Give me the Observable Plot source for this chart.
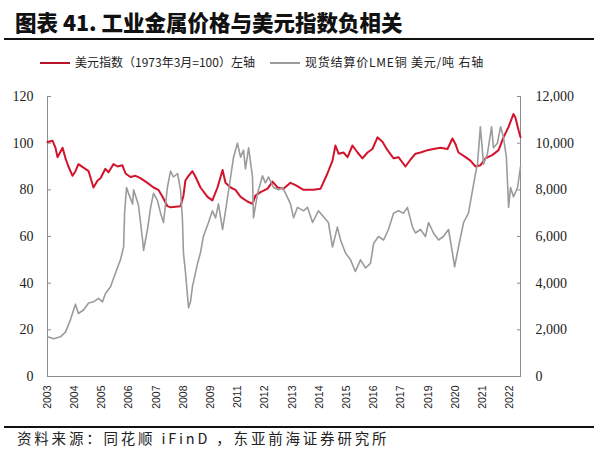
<!DOCTYPE html>
<html><head><meta charset="utf-8">
<script src="https://cdn.jsdelivr.net/npm/d3@7"></script>
<script src="https://cdn.jsdelivr.net/npm/@observablehq/plot@0.6"></script>
<style>
body{margin:0;width:600px;height:466px;background:#fff;overflow:hidden;position:relative;font-family:"Noto Sans CJK SC",sans-serif;color:#111;}
#title{position:absolute;left:15px;top:7px;font-size:21.5px;font-weight:900;line-height:30px;white-space:nowrap;}
.rule{position:absolute;left:4px;width:590px;height:2px;background:#111;}
#legend{position:absolute;left:0;top:54px;height:16px;font-size:12px;line-height:16px;white-space:nowrap;color:#222;}
.sw{position:absolute;top:8px;width:30px;height:2px;}
.lt{position:absolute;top:0;}
#chart{position:absolute;left:0;top:80px;}
#source{position:absolute;left:17px;top:429px;font-size:14.5px;line-height:18px;white-space:nowrap;color:#222;letter-spacing:2.8px;}
</style></head>
<body>
<div id="title">图表 41. 工业金属价格与美元指数负相关</div>
<div class="rule" style="top:38px"></div>
<div id="legend">
  <div class="sw" style="left:40px;background:#b5142a"></div><div class="lt" style="left:75px">美元指数（1973年3月=100）左轴</div>
  <div class="sw" style="left:270px;background:#9b9b9b"></div><div class="lt" style="left:305px;letter-spacing:0.8px">现货结算价LME铜 美元/吨 右轴</div>
</div>
<div id="chart"></div>
<div class="rule" style="top:426px"></div>
<div id="source">资料来源：同花顺 iFinD ，东亚前海证券研究所</div>
<script>
const xLabels = ["2003","2004","2005","2006","2007","2008","2009","2011","2012","2013","2014","2015","2016","2017","2019","2020","2021","2022"];
const leftTicks = [0,20,40,60,80,100,120];
const rightTicks = [0,2000,4000,6000,8000,10000,12000];

const usdYears = [2003.00,2003.21,2003.33,2003.41,2003.62,2003.74,2003.86,2004.03,2004.15,2004.27,2004.48,2004.69,2004.89,2005.06,2005.18,2005.38,2005.51,2005.71,2005.88,2006.08,2006.21,2006.41,2006.62,2006.82,2007.11,2007.36,2007.56,2007.73,2007.93,2008.06,2008.47,2008.59,2008.67,2008.80,2008.96,2009.09,2009.29,2009.58,2009.78,2009.99,2010.20,2010.32,2010.53,2010.73,2010.94,2011.22,2011.43,2011.55,2011.76,2012.05,2012.25,2012.46,2012.70,2012.99,2013.20,2013.53,2013.94,2014.23,2014.51,2014.72,2014.84,2014.97,2015.17,2015.34,2015.54,2015.75,2015.95,2016.16,2016.36,2016.57,2016.78,2016.98,2017.23,2017.43,2017.72,2017.93,2018.13,2018.34,2018.63,2018.87,2019.16,2019.45,2019.65,2019.78,2019.90,2020.19,2020.39,2020.60,2020.80,2021.01,2021.30,2021.55,2021.75,2021.96,2022.16,2022.24,2022.37,2022.45];
const usdValues = [100.5,101,98,94,98,93.5,90,86,88,91,89.5,88,81,84,85,89,87.5,91,90,90.5,87,85.5,86,85,83,81,80,77,73,72.5,73,77.5,84,86,88,85.5,81,77,75.5,81,88.5,83,81,80,77,75,74,77.5,79,80.5,83.5,81,80.5,83,82,80,80,80.5,87,92.5,99,95.5,96,94,99,96,93.5,96,97.5,102.5,100.5,97,93.5,94,90,93,95.5,96,97,97.5,98,97.5,102,99.5,96,94,92.5,90,90.5,93.5,95,97,102.5,107,112.5,111,105.5,102.5];

const copperYears = [2003.00,2003.25,2003.53,2003.74,2003.95,2004.15,2004.27,2004.48,2004.69,2004.89,2005.10,2005.26,2005.38,2005.59,2005.80,2006.00,2006.13,2006.17,2006.25,2006.33,2006.50,2006.54,2006.74,2006.91,2006.95,2007.11,2007.24,2007.36,2007.52,2007.65,2007.77,2007.93,2008.06,2008.18,2008.35,2008.47,2008.55,2008.59,2008.67,2008.80,2008.88,2008.96,2009.17,2009.29,2009.41,2009.62,2009.78,2009.91,2010.03,2010.20,2010.32,2010.53,2010.65,2010.81,2010.94,2011.06,2011.14,2011.27,2011.43,2011.47,2011.64,2011.84,2011.96,2012.09,2012.29,2012.50,2012.66,2012.79,2012.99,2013.12,2013.28,2013.53,2013.69,2013.90,2014.14,2014.35,2014.55,2014.72,2014.92,2015.05,2015.25,2015.46,2015.66,2015.87,2016.08,2016.28,2016.41,2016.61,2016.82,2017.02,2017.23,2017.43,2017.64,2017.80,2018.01,2018.13,2018.34,2018.54,2018.67,2018.87,2019.08,2019.28,2019.49,2019.65,2019.74,2019.90,2020.11,2020.31,2020.48,2020.60,2020.68,2020.80,2020.93,2021.09,2021.26,2021.34,2021.50,2021.63,2021.75,2021.87,2021.96,2022.04,2022.16,2022.33,2022.45];
const copperValues = [1700,1620,1700,1900,2450,3100,2700,2850,3150,3200,3350,3200,3550,3850,4450,5000,5550,7000,8100,7850,7400,8000,7350,5850,5400,6300,7250,7850,7550,7000,6600,8100,8800,8550,8700,8000,6700,5300,4500,2950,3200,3850,4850,5300,6000,6600,7100,6800,7400,6300,7100,8550,9400,10000,9400,9700,8900,9800,8550,6800,7850,8600,8300,8550,8100,8000,8100,7850,7400,6800,7250,7100,7250,6600,7100,6850,6600,5550,6400,5850,5300,5000,4500,5000,4650,4850,5700,6000,5850,6300,7000,7100,7000,7250,6400,6150,6300,6000,6600,6150,5850,6000,6300,5300,4700,5550,6600,7000,8000,8700,9100,10700,9100,9550,10700,9800,10000,10700,10250,9400,7250,8100,7700,8100,9000];

const xStart = 2003, xEnd = 2022.45, xLabelStep = 1.1185;
const xTicks = xLabels.map((_, i) => xStart + i * xLabelStep);
const labelOf = d => xLabels[Math.round((d - xStart) / xLabelStep)];

const usd = usdYears.map((t, i) => ({t, v: usdValues[i]}));
const copper = copperYears.map((t, i) => ({t, v: copperValues[i]}));
const axisColor = "#8c8c8c";

const plot = Plot.plot({
  width: 600, height: 340,
  marginLeft: 47, marginRight: 80, marginTop: 16, marginBottom: 44,
  x: {domain: [xStart, xEnd]},
  y: {domain: [0, 120]},
  style: {fontFamily: "'Liberation Serif', serif", fontSize: "14px", color: "#222", background: "transparent"},
  marks: [
    Plot.ruleX([xStart, xEnd], {stroke: axisColor}),
    Plot.ruleY([0], {stroke: axisColor}),
    Plot.axisY({anchor: "left", ticks: leftTicks, tickSize: -4, tickPadding: 18, stroke: axisColor, label: null}),
    Plot.axisY({anchor: "right", ticks: rightTicks.map(v => v / 100), tickSize: -4, tickPadding: 19, stroke: axisColor, tickFormat: d => d3.format(",")(Math.round(d * 100)), label: null}),
    Plot.axisX({ticks: xTicks, tickFormat: labelOf, tickRotate: -90, tickSize: 0, tickPadding: 9, fontFamily: "'Liberation Sans', Arial, sans-serif", fontSize: 10.5, label: null}),
    Plot.line(usd, {x: "t", y: "v", stroke: "#d3132c", strokeWidth: 2}),
    Plot.line(copper, {x: "t", y: d => d.v / 100, stroke: "#9b9b9b", strokeWidth: 1.6})
  ]
});
document.getElementById("chart").appendChild(plot);
</script>
</body></html>
